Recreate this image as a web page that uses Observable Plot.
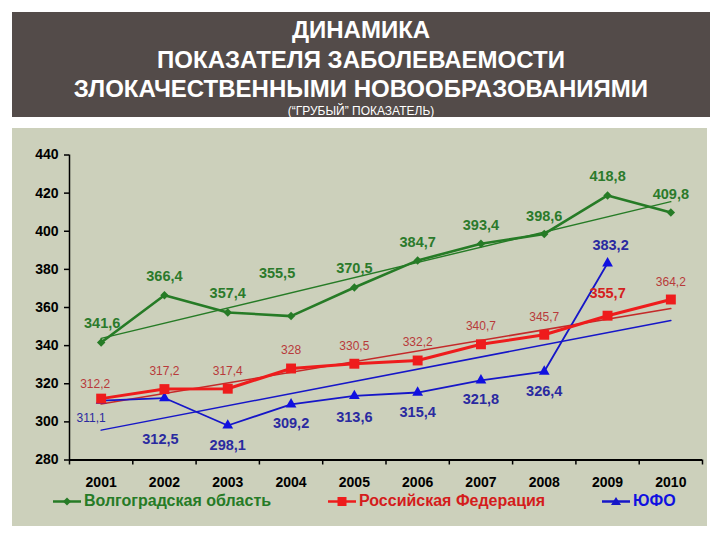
<!DOCTYPE html>
<html><head><meta charset="utf-8">
<script src="https://cdn.jsdelivr.net/npm/d3@7"></script>
<script src="https://cdn.jsdelivr.net/npm/@observablehq/plot@0.6"></script>
<style>
body{margin:0;background:#fff;width:720px;height:540px;position:relative;overflow:hidden;font-family:"Liberation Sans",Arial,sans-serif;}
#title{position:absolute;left:12px;top:12px;width:698px;height:105px;background:#534b49;color:#fff;text-align:center;}
#title .t{position:absolute;left:0;right:0;font-weight:bold;font-size:24px;line-height:24px;white-space:nowrap;}
#title .s{position:absolute;left:0;right:0;font-size:12px;line-height:12px;}
#panel{position:absolute;left:12px;top:128px;width:695px;height:398px;background:#ccd0bb;}
#chart{position:absolute;left:0;top:0;}
.leg{position:absolute;top:362px;height:22px;display:flex;align-items:center;font-weight:bold;font-size:16px;white-space:nowrap;}
.leg svg{margin-right:3px;}
</style>
</head><body>
<div id="title">
  <div class="t" style="top:6px">ДИНАМИКА</div>
  <div class="t" style="top:36px">ПОКАЗАТЕЛЯ ЗАБОЛЕВАЕМОСТИ</div>
  <div class="t" style="top:65px">ЗЛОКАЧЕСТВЕННЫМИ НОВООБРАЗОВАНИЯМИ</div>
  <div class="s" style="top:93px">(“ГРУБЫЙ” ПОКАЗАТЕЛЬ)</div>
</div>
<div id="panel"><div id="chart"></div><div id="legend"></div></div>
<script>
const years = [2001,2002,2003,2004,2005,2006,2007,2008,2009,2010];
const volgograd = [341.6,366.4,357.4,355.5,370.5,384.7,393.4,398.6,418.8,409.8];
const russia = [312.2,317.2,317.4,328,330.5,332.2,340.7,345.7,355.7,364.2];
const ufo = [311.1,312.5,298.1,309.2,313.6,315.4,321.8,326.4,383.2];
const seriesNames = ["Волгоградская область","Российская Федерация","ЮФО"];
const yTicks = [280,300,320,340,360,380,400,420,440];

// label placement (styling only)
const volgLabelDx = [1,0,0,-14,0,0,0,0,0,0];
const volgLabelDy = [-19,-19,-19,-43,-19,-18,-18,-18,-19,-18];
const russiaLabelDx = [-6,0,0,0,0,0,0,0,0,0];
const russiaLabelDy = [-14,-18,-18,-18,-18,-18,-18,-18,-22,-17];
const russiaLabelSize = [12,12,12,12,12,12,12,12,14.5,12];
const ufoLabelDx = [-10,-4,0,0,0,0,0,0,3];
const ufoLabelDy = [17,41,20,19,21,20,19,20,-18];
const ufoLabelSize = [12,14.5,14.5,14.5,14.5,14.5,14.5,14.5,14.5];

const colors = {
  green: "#267b26", greenLabel: "#2b7a2b",
  red: "#ee1c1c", redTrend: "#c42a2a", redLabel: "#b83a3a", redLabelStrong: "#d42020",
  blue: "#1616c8", blueMark: "#1010e0", blueLabel: "#2a2aa0"
};

const toRows = vals => vals.map((v, i) => ({year: years[i], value: v}));
const fmt = v => String(v).replace(".", ",");
function trend(vals) {
  const xs = years.slice(0, vals.length);
  const mx = d3.mean(xs), my = d3.mean(vals);
  const b = d3.sum(xs, (x, i) => (x - mx) * (vals[i] - my)) / d3.sum(xs, x => (x - mx) ** 2);
  const a = my - b * mx;
  return [years[0], years[years.length - 1]].map(x => ({year: x, value: a + b * x}));
}
function labels(vals, dxs, dys, sizes, weights, fills) {
  return vals.map((v, i) => Plot.text([{year: years[i], value: v}], {
    x: "year", y: "value", text: d => fmt(d.value),
    dx: dxs[i], dy: dys[i], fontSize: sizes[i], fontWeight: weights[i], fill: fills[i]
  }));
}

const vRows = toRows(volgograd), rRows = toRows(russia), uRows = toRows(ufo);
const bounds = d3.range(years[0] - 0.5, years[years.length - 1] + 1, 1);

const chart = Plot.plot({
  width: 695, height: 365,
  marginLeft: 57, marginRight: 5, marginTop: 26.5, marginBottom: 33.5,
  style: {background: "transparent", fontFamily: "Liberation Sans, Arial, sans-serif", color: "#000"},
  x: {domain: [years[0] - 0.5, years[years.length - 1] + 0.5]},
  y: {domain: [yTicks[0], yTicks[yTicks.length - 1]]},
  marks: [
    Plot.ruleX([years[0] - 0.5], {y1: yTicks[0], y2: yTicks[yTicks.length - 1], stroke: "#000", strokeWidth: 1.5}),
    Plot.ruleY([yTicks[0]], {stroke: "#000", strokeWidth: 2}),
    Plot.axisY({ticks: yTicks, tickSize: 5, tickPadding: 6, label: null, fontSize: 14, fontWeight: "bold", stroke: "#000", strokeWidth: 1.5}),
    Plot.axisX({ticks: bounds, tickSize: 5, tickFormat: () => "", label: null, stroke: "#000", strokeWidth: 1.5}),
    Plot.axisX({ticks: years, tickSize: 0, tickPadding: 17, tickFormat: d => String(d), label: null, fontSize: 14, fontWeight: "bold"}),
    // trend lines
    Plot.line(trend(volgograd), {x: "year", y: "value", stroke: colors.green, strokeWidth: 1.4}),
    Plot.line(trend(russia), {x: "year", y: "value", stroke: colors.redTrend, strokeWidth: 1.5}),
    Plot.line(trend(ufo), {x: "year", y: "value", stroke: colors.blue, strokeWidth: 1.5}),
    // series
    Plot.line(uRows, {x: "year", y: "value", stroke: colors.blue, strokeWidth: 1.8}),
    Plot.line(rRows, {x: "year", y: "value", stroke: colors.red, strokeWidth: 3}),
    Plot.line(vRows, {x: "year", y: "value", stroke: colors.green, strokeWidth: 2.6}),
    Plot.dot(uRows, {x: "year", y: "value", symbol: "triangle", r: 4, fill: colors.blueMark, stroke: "none"}),
    Plot.dot(rRows, {x: "year", y: "value", symbol: "square", r: 5.6, fill: colors.red, stroke: "none"}),
    Plot.dot(vRows, {x: "year", y: "value", symbol: "diamond2", r: 3.8, fill: colors.green, stroke: "none"}),
    // data labels
    ...labels(volgograd, volgLabelDx, volgLabelDy, volgograd.map(() => 14.5), volgograd.map(() => "bold"), volgograd.map(() => colors.greenLabel)),
    ...labels(russia, russiaLabelDx, russiaLabelDy, russiaLabelSize,
      russia.map((_, i) => i === 8 ? "bold" : "normal"),
      russia.map((_, i) => i === 8 ? colors.redLabelStrong : colors.redLabel)),
    ...labels(ufo, ufoLabelDx, ufoLabelDy, ufoLabelSize,
      ufo.map((_, i) => i === 0 ? "normal" : "bold"), ufo.map(() => colors.blueLabel))
  ]
});
document.getElementById("chart").append(chart);

// legend
const legendItems = [
  {name: seriesNames[0], color: colors.green, text: colors.green, shape: "diamond", left: 41},
  {name: seriesNames[1], color: colors.red, text: "#d41c1c", shape: "square", left: 316},
  {name: seriesNames[2], color: colors.blue, text: colors.blueMark, shape: "triangle", left: 590}
];
const legend = document.getElementById("legend");
for (const it of legendItems) {
  const div = document.createElement("div");
  div.className = "leg";
  div.style.left = it.left + "px";
  div.style.color = it.text;
  let m;
  if (it.shape === "diamond") m = `<path d="M14 6.5 L18 10.5 L14 14.5 L10 10.5Z" fill="${it.color}"/>`;
  else if (it.shape === "square") m = `<rect x="9.5" y="6" width="9" height="9" fill="${it.color}"/>`;
  else m = `<path d="M14 6 L19 14 L9 14Z" fill="${it.color}"/>`;
  div.innerHTML = `<svg width="28" height="21"><line x1="0" x2="28" y1="10.5" y2="10.5" stroke="${it.color}" stroke-width="2.5"/>${m}</svg><span>${it.name}</span>`;
  legend.append(div);
}
</script>
</body></html>
